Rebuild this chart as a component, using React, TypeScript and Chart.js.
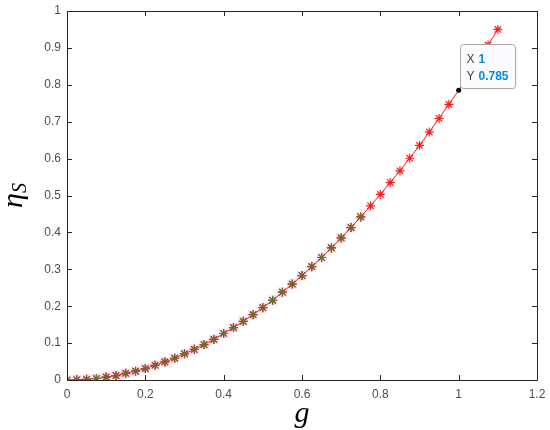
import React, { useEffect, useRef } from "react";
import { Chart, registerables } from "chart.js";

Chart.register(...registerables);

const gValues = [
  0, 0.025, 0.05, 0.075, 0.1, 0.125, 0.15, 0.175, 0.2, 0.225, 0.25, 0.275, 0.3, 0.325, 0.35,
  0.375, 0.4, 0.425, 0.45, 0.475, 0.5, 0.525, 0.55, 0.575, 0.6, 0.625, 0.65, 0.675, 0.7,
  0.725, 0.75, 0.775, 0.8, 0.825, 0.85, 0.875, 0.9, 0.925, 0.95, 0.975, 1.0, 1.025, 1.05,
  1.075, 1.1,
];
const etaValues = [
  0, 0.0005, 0.002, 0.004, 0.008, 0.012, 0.018, 0.024, 0.031, 0.04, 0.049, 0.059, 0.071,
  0.083, 0.096, 0.11, 0.126, 0.142, 0.159, 0.177, 0.196, 0.216, 0.238, 0.26, 0.283, 0.307,
  0.332, 0.358, 0.385, 0.413, 0.442, 0.472, 0.503, 0.535, 0.567, 0.601, 0.636, 0.672, 0.709,
  0.747, 0.785, 0.825, 0.866, 0.908, 0.95,
];
const overlayCount = 31; // points 0 .. 0.75 carry the olive overlay markers
const xTicks = [0, 0.2, 0.4, 0.6, 0.8, 1, 1.2];
const yTicks = [0, 0.1, 0.2, 0.3, 0.4, 0.5, 0.6, 0.7, 0.8, 0.9, 1];
const tipX = 1;
const tipY = 0.785;
const xTitle = "g";
const yTitleMain = "η";
const yTitleSub = "S";

export default function App() {
  const ref = useRef<HTMLCanvasElement | null>(null);

  useEffect(() => {
    const canvas = ref.current;
    if (!canvas) return;
    const main = gValues.map((x, i) => ({ x, y: etaValues[i] }));
    const overlay = main.slice(0, overlayCount);
    const mainRadius = gValues.map((x) => (x === tipX ? 0 : 4.5));

    const axesPlugin = {
      id: "matlabAxes",
      afterDraw(chart: any) {
        const ctx = chart.ctx as CanvasRenderingContext2D;
        const xs = chart.scales.x;
        const ys = chart.scales.y;
        const a = chart.chartArea;
        ctx.save();
        ctx.strokeStyle = "#262626";
        ctx.lineWidth = 1;
        ctx.beginPath();
        ctx.rect(Math.round(a.left) + 0.5, Math.round(a.top) + 0.5, Math.round(a.right - a.left), Math.round(a.bottom - a.top));
        ctx.stroke();
        const tl = 5;
        ctx.beginPath();
        xTicks.forEach((v) => {
          const px = Math.round(xs.getPixelForValue(v)) + 0.5;
          ctx.moveTo(px, a.bottom);
          ctx.lineTo(px, a.bottom - tl);
          ctx.moveTo(px, a.top);
          ctx.lineTo(px, a.top + tl);
        });
        yTicks.forEach((v) => {
          const py = Math.round(ys.getPixelForValue(v)) + 0.5;
          ctx.moveTo(a.left, py);
          ctx.lineTo(a.left + tl, py);
          ctx.moveTo(a.right, py);
          ctx.lineTo(a.right - tl, py);
        });
        ctx.stroke();

        ctx.fillStyle = "#4d4d4d";
        ctx.font = "12px 'Liberation Sans', Arial, sans-serif";
        ctx.textAlign = "center";
        ctx.textBaseline = "middle";
        xTicks.forEach((v) => {
          ctx.fillText(String(v), xs.getPixelForValue(v), a.bottom + 15);
        });
        ctx.textAlign = "right";
        yTicks.forEach((v) => {
          ctx.fillText(String(v), a.left - 6, ys.getPixelForValue(v));
        });

        // axis titles
        ctx.fillStyle = "#000";
        ctx.textAlign = "center";
        ctx.textBaseline = "middle";
        ctx.font = "italic 30px 'Liberation Serif', 'Times New Roman', serif";
        ctx.fillText(xTitle, (a.left + a.right) / 2, 414);

        ctx.save();
        ctx.translate(22, (a.top + a.bottom) / 2);
        ctx.rotate(-Math.PI / 2);
        ctx.textAlign = "left";
        ctx.textBaseline = "alphabetic";
        ctx.font = "italic 30px 'Liberation Serif', 'Times New Roman', serif";
        const w1 = ctx.measureText(yTitleMain).width;
        ctx.font = "italic 20px 'Liberation Serif', 'Times New Roman', serif";
        const w2 = ctx.measureText(yTitleSub).width;
        const start = -(w1 + w2) / 2;
        ctx.font = "italic 30px 'Liberation Serif', 'Times New Roman', serif";
        ctx.fillText(yTitleMain, start, 0);
        ctx.font = "italic 20px 'Liberation Serif', 'Times New Roman', serif";
        ctx.fillText(yTitleSub, start + w1, 4);
        ctx.restore();

        // data tip
        const px = xs.getPixelForValue(tipX);
        const py = ys.getPixelForValue(tipY);
        ctx.fillStyle = "#000";
        ctx.beginPath();
        ctx.arc(px, py, 2.5, 0, Math.PI * 2);
        ctx.fill();
        const bx = Math.round(px) + 1.5;
        const bw = 55;
        const bh = 44;
        const by = Math.round(py) - 1.5 - bh;
        ctx.fillStyle = "rgba(0,0,0,0.08)";
        ctx.beginPath();
        ctx.roundRect(bx + 1, by + 1, bw, bh, 3);
        ctx.fill();
        ctx.fillStyle = "#fbfbfd";
        ctx.strokeStyle = "#a8a8a8";
        ctx.lineWidth = 1;
        ctx.beginPath();
        ctx.roundRect(bx, by, bw, bh, 3);
        ctx.fill();
        ctx.stroke();
        ctx.textAlign = "left";
        ctx.textBaseline = "middle";
        ctx.font = "12px 'Liberation Sans', Arial, sans-serif";
        ctx.fillStyle = "#404040";
        ctx.fillText("X", bx + 6, by + 15);
        ctx.fillText("Y", bx + 6, by + 32);
        ctx.font = "bold 12px 'Liberation Sans', Arial, sans-serif";
        ctx.fillStyle = "#0a8ad8";
        ctx.fillText(String(tipX), bx + 18, by + 15);
        ctx.fillText(String(tipY), bx + 18, by + 32);
        ctx.restore();
      },
    };

    const chart = new Chart(canvas, {
      type: "line",
      data: {
        datasets: [
          {
            data: overlay,
            showLine: false,
            pointStyle: "star",
            pointRadius: 4.5,
            borderColor: "#6b6a2c",
            backgroundColor: "#6b6a2c",
            pointBorderWidth: 1.2,
            order: 0,
          },
          {
            data: main,
            borderColor: "#ff1a1a",
            borderWidth: 1,
            pointStyle: "star",
            pointRadius: mainRadius,
            pointBorderColor: "#ff1a1a",
            pointBackgroundColor: "#ff1a1a",
            pointBorderWidth: 1.2,
            tension: 0,
            order: 1,
          },
          {
            data: overlay,
            showLine: false,
            pointStyle: "rect",
            pointRadius: 7,
            pointBorderWidth: 0,
            pointBorderColor: "rgba(0,0,0,0)",
            pointBackgroundColor: "rgba(248,190,240,0.45)",
            borderColor: "rgba(0,0,0,0)",
            backgroundColor: "rgba(248,190,240,0.45)",
            order: 2,
          },
        ],
      },
      options: {
        responsive: false,
        animation: false,
        events: [],
        layout: { padding: { left: 67, top: 11, right: 13, bottom: 50 } },
        plugins: { legend: { display: false }, tooltip: { enabled: false } },
        scales: {
          x: { type: "linear", min: 0, max: 1.2, display: false },
          y: { type: "linear", min: 0, max: 1, display: false },
        },
      },
      plugins: [axesPlugin],
    });
    return () => chart.destroy();
  }, []);

  return (
    <div style={{ position: "fixed", left: 0, top: 0, width: 550, height: 430, background: "#fff" }}>
      <canvas ref={ref} width={550} height={430} style={{ width: 550, height: 430, display: "block" }} />
    </div>
  );
}
